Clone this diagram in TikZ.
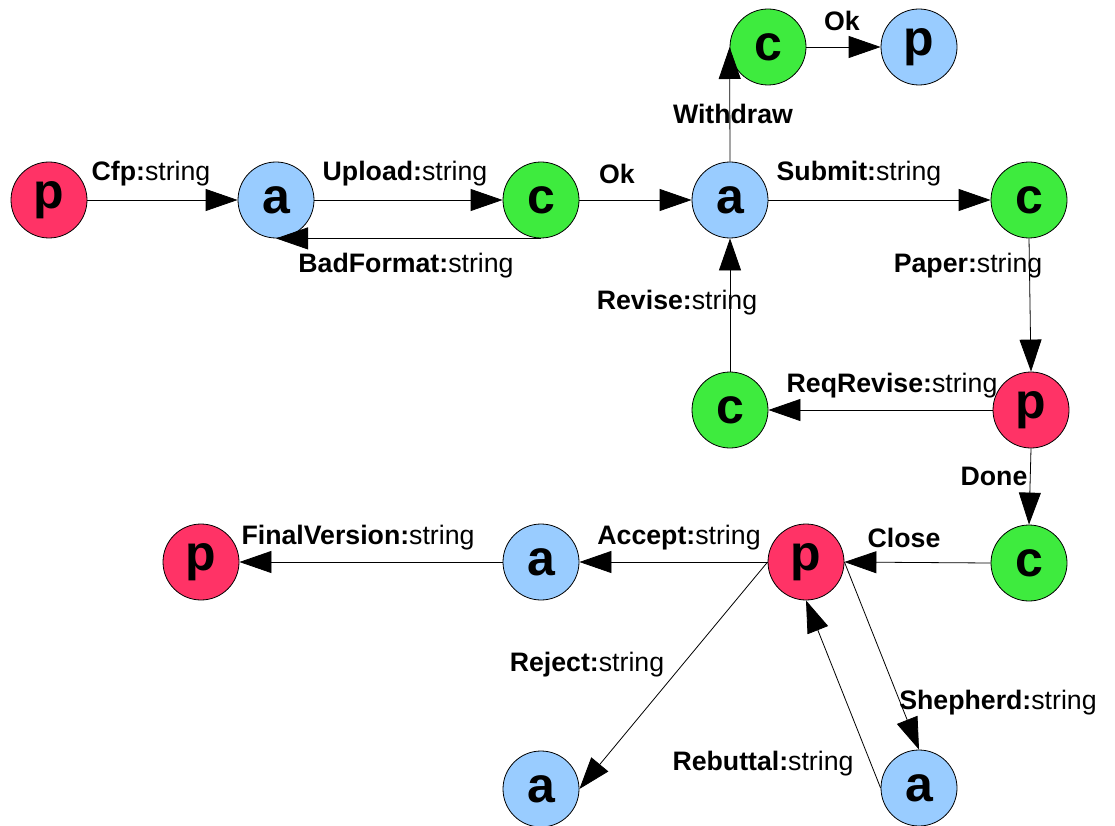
\documentclass[tikz,border=0pt]{standalone}
\usepackage{fontspec}
\setmainfont{Liberation Sans}
\usetikzlibrary{arrows.meta}
\definecolor{nred}{RGB}{255,51,102}
\definecolor{nblue}{RGB}{153,204,255}
\definecolor{ngreen}{RGB}{62,235,62}
\tikzset{
  st/.style={circle,draw=black,line width=0.8pt,minimum size=76pt,inner sep=0pt,font=\fontsize{50}{50}\selectfont\bfseries},
  pn/.style={st,fill=nred},
  an/.style={st,fill=nblue},
  cn/.style={st,fill=ngreen},
  tr/.style={line width=0.8pt,-{Triangle[length=32pt,width=22pt]}},
  lbl/.style={font=\fontsize{26.7}{30}\selectfont,inner sep=0pt}
}
\begin{document}
\begin{tikzpicture}[x=1pt,y=-1pt]
\useasboundingbox (0,0) rectangle (1115,826);
\node[pn] (p1) at (49,200) {p};
\node[an] (a1) at (276,200) {a};
\node[cn] (c1) at (541,200) {c};
\node[an] (a2) at (730,200) {a};
\node[cn] (c2) at (768,47) {c};
\node[an] (p2) at (919,47) {p};
\node[cn] (c3) at (1029,200) {c};
\node[pn] (p3) at (1031,410) {p};
\node[cn] (c4) at (730,410) {c};
\node[cn] (c5) at (1029,563) {c};
\node[pn] (p4) at (806,562) {p};
\node[an] (a3) at (541,562) {a};
\node[pn] (p5) at (201,562) {p};
\node[an] (a4) at (541,789) {a};
\node[an] (a5) at (919,788) {a};

\draw[tr] (p1.east) -- (a1.west);
\draw[tr] (a1.east) -- (c1.west);
\draw[tr] (c1.south) -- (a1.south);
\draw[tr] (c1.east) -- (a2.west);
\draw[tr] (a2.north) -- (c2.west);
\draw[tr] (c2.east) -- (p2.west);
\draw[tr] (a2.east) -- (c3.west);
\draw[tr] (c3.south) -- (p3.north);
\draw[tr] (p3.west) -- (c4.east);
\draw[tr] (c4.north) -- (a2.south);
\draw[tr] (p3.south) -- (c5.north);
\draw[tr] (c5.west) -- (p4.east);
\draw[tr] (p4.west) -- (a3.east);
\draw[tr] (a3.west) -- (p5.east);
\draw[tr] (p4.west) -- (a4.east);
\draw[tr] (p4.east) -- (a5.north);
\draw[tr] (a5.west) -- (p4.south);

\node[lbl] (l1) at (151,174) {\textbf{Cfp:}string};
\node[lbl] (l2) at (405,174) {\textbf{Upload:}string};
\node[lbl] (l3) at (406,266) {\textbf{BadFormat:}string};
\node[lbl] (l4) at (617,174) {\textbf{Ok}};
\node[lbl] (l5) at (733,114) {\textbf{Withdraw}};
\node[lbl] (l6) at (842,21) {\textbf{Ok}};
\node[lbl] (l7) at (859,174) {\textbf{Submit:}string};
\node[lbl] (l8) at (968,266) {\textbf{Paper:}string};
\node[lbl] (l9) at (677,303) {\textbf{Revise:}string};
\node[lbl] (l10) at (892,386) {\textbf{ReqRevise:}string};
\node[lbl] (l11) at (994,476) {\textbf{Done}};
\node[lbl] (l12) at (904,538) {\textbf{Close}};
\node[lbl] (l13) at (679,538) {\textbf{Accept:}string};
\node[lbl] (l14) at (358,538) {\textbf{FinalVersion:}string};
\node[lbl] (l15) at (587,665) {\textbf{Reject:}string};
\node[lbl] (l16) at (998,703) {\textbf{Shepherd:}string};
\node[lbl] (l17) at (763,764) {\textbf{Rebuttal:}string};
\end{tikzpicture}
\end{document}
